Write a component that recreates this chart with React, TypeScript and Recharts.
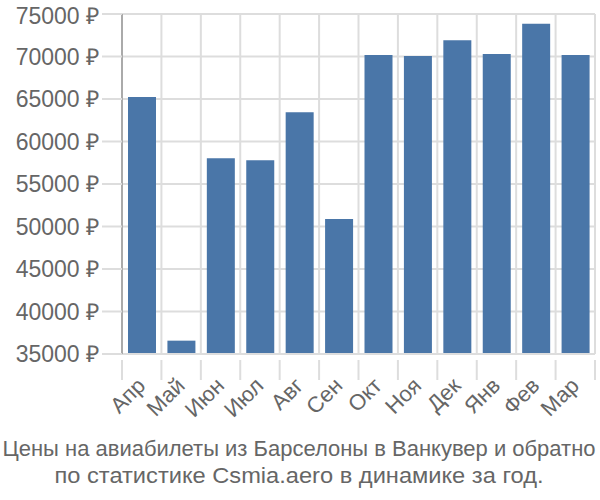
import { BarChart, Bar, XAxis, YAxis, CartesianGrid } from 'recharts';

const months = ['Апр', 'Май', 'Июн', 'Июл', 'Авг', 'Сен', 'Окт', 'Ноя', 'Дек', 'Янв', 'Фев', 'Мар'];
const prices = [65240, 36570, 58020, 57790, 63430, 50880, 70180, 70060, 71900, 70290, 73860, 70180];
const yTicks = [35000, 40000, 45000, 50000, 55000, 60000, 65000, 70000, 75000];
const titleLines = [
    'Цены на авиабилеты из Барселоны в Ванкувер и обратно',
    'по статистике Csmia.aero в динамике за год.',
];
// widths the title lines take up in the original
const titleWidths = [593, 489];

const data = months.map((m, i) => ({ name: m, value: prices[i] }));

const FONT = '"Liberation Sans", Arial, sans-serif';
const TEXT = '#666666';
const GRID = '#dddddd';

// month label rotated, plus the tick line at the left edge of each category
const MonthTick = (props: any) => {
    const { x, y, payload, index, visibleTicksCount } = props;
    const half = payload.offset || 0;
    const top = y - 28;
    return (
        <g>
            <line x1={x - half} x2={x - half} y1={top} y2={top + 20} stroke={GRID} strokeWidth={2} />
            {index === visibleTicksCount - 1 && (
                <line x1={x + half} x2={x + half} y1={top} y2={top + 20} stroke={GRID} strokeWidth={2} />
            )}
            <text
                x={x + 5}
                y={y - 1}
                textAnchor="end"
                transform={`rotate(-45, ${x + 5}, ${y - 1})`}
                fill={TEXT}
                fontSize={22}
                fontFamily={FONT}
            >
                {payload.value}
            </text>
        </g>
    );
};

const App = () => {
    return (
        <div style={{ position: 'relative', width: 600, height: 500 }}>
            <style>{'body{margin:0}'}</style>
            <BarChart
                width={600}
                height={500}
                data={data}
                margin={{ top: 14, right: 5, left: 0, bottom: 70 }}
            >
                <CartesianGrid
                    stroke={GRID}
                    strokeWidth={2}
                    verticalCoordinatesGenerator={({ offset }: any) =>
                        months.map((_, i) => offset.left + (i * offset.width) / months.length).concat(offset.left + offset.width)
                    }
                />
                <XAxis
                    dataKey="name"
                    interval={0}
                    height={76}
                    tickLine={false}
                    axisLine={{ stroke: GRID, strokeWidth: 2 }}
                    tick={<MonthTick />}
                    tickMargin={28}
                />
                <YAxis
                    domain={[35000, 75000]}
                    ticks={yTicks}
                    width={122}
                    tickSize={20}
                    tickMargin={3}
                    tickLine={{ stroke: GRID, strokeWidth: 2 }}
                    axisLine={{ stroke: '#aaaaaa', strokeWidth: 2 }}
                    tick={{ fill: TEXT, fontSize: 23, fontFamily: FONT }}
                    tickFormatter={(v: number) => `${v} ₽`}
                    allowDataOverflow
                />
                <Bar dataKey="value" fill="#4a76a8" barSize={28} isAnimationActive={false} />
            </BarChart>
            <svg width={600} height={70} style={{ position: 'absolute', left: 0, top: 430 }}>
                {titleLines.map((t, i) => (
                    <text
                        key={i}
                        x={299}
                        y={25.5 + i * 27.5}
                        textAnchor="middle"
                        textLength={titleWidths[i]}
                        lengthAdjust="spacingAndGlyphs"
                        fill={TEXT}
                        fontSize={22}
                        fontFamily={FONT}
                    >
                        {t}
                    </text>
                ))}
            </svg>
        </div>
    );
};

export default App;
